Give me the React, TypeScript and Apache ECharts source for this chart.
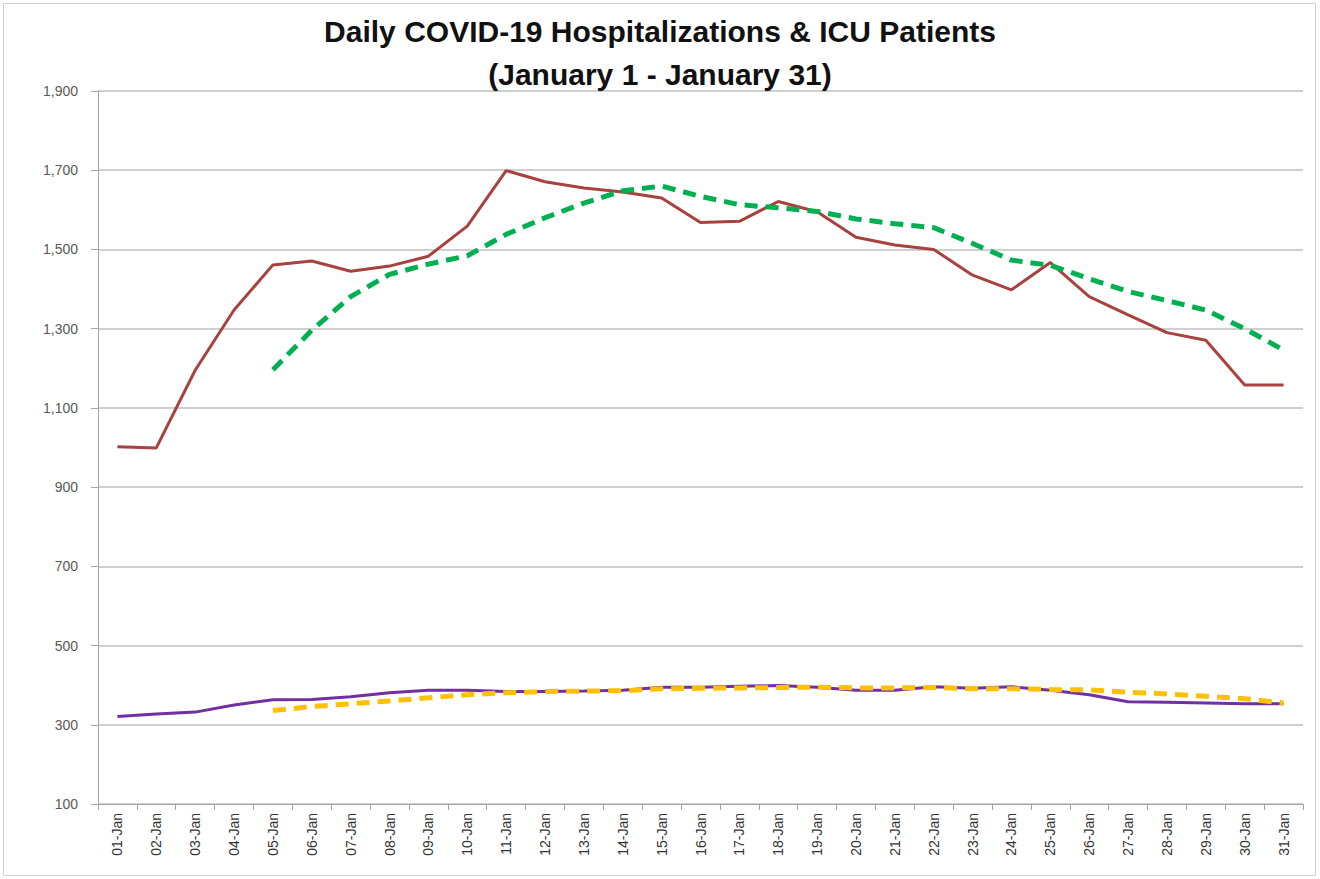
import React, { useEffect, useRef } from "react";
import * as echarts from "echarts";

const days: string[] = [
  "01-Jan","02-Jan","03-Jan","04-Jan","05-Jan","06-Jan","07-Jan","08-Jan","09-Jan","10-Jan",
  "11-Jan","12-Jan","13-Jan","14-Jan","15-Jan","16-Jan","17-Jan","18-Jan","19-Jan","20-Jan",
  "21-Jan","22-Jan","23-Jan","24-Jan","25-Jan","26-Jan","27-Jan","28-Jan","29-Jan","30-Jan","31-Jan",
];

const hospitalizations: (number | null)[] = [
  1002, 999, 1195, 1347, 1461, 1471, 1445, 1458, 1483, 1559,
  1699, 1671, 1655, 1645, 1630, 1568, 1571, 1621, 1595, 1531,
  1511, 1500, 1435, 1398, 1467, 1381, 1335, 1290, 1271, 1158, 1158,
];

const hospAvg: (number | null)[] = [
  null, null, null, null, 1196, 1296, 1381, 1437, 1463, 1484,
  1538, 1580, 1617, 1648, 1660, 1634, 1613, 1605, 1596, 1577,
  1565, 1555, 1515, 1473, 1460, 1426, 1394, 1371, 1347, 1300, 1246,
];

const icu: (number | null)[] = [
  321, 327, 332, 350, 363, 364, 371, 381, 387, 387,
  384, 384, 385, 387, 395, 395, 397, 399, 395, 387,
  387, 396, 392, 396, 387, 376, 358, 357, 355, 353, 353,
];

const icuAvg: (number | null)[] = [
  null, null, null, null, 336, 346, 353, 360, 368, 376,
  381, 384, 385, 386, 391, 392, 393, 394, 395, 393,
  393, 394, 391, 391, 389, 388, 382, 378, 372, 366, 355,
];

const yTicks = { min: 100, max: 1900, interval: 200 };

export default function App() {
  const ref = useRef<HTMLDivElement>(null);
  useEffect(() => {
    if (!ref.current) return;
    const chart = echarts.init(ref.current, undefined, { renderer: "svg" });
    chart.setOption({
      animation: false,
      backgroundColor: "#ffffff",
      title: {
        text: "Daily COVID-19 Hospitalizations & ICU Patients\n(January 1 - January 31)",
        left: "center",
        top: 10,
        padding: 0,
        textStyle: {
          fontFamily: "Liberation Sans, Arial, sans-serif",
          fontWeight: "bold",
          fontSize: 30,
          lineHeight: 43,
          color: "#111111",
        },
      },
      graphic: [
        {
          type: "rect",
          shape: { x: 3.5, y: 3.5, width: 1312, height: 872 },
          style: { fill: "none", stroke: "#d0d0d0", lineWidth: 1 },
          silent: true,
        },
      ],
      grid: { left: 98, right: 17, top: 91, bottom: 75, containLabel: false },
      xAxis: {
        type: "category",
        data: days,
        boundaryGap: true,
        axisLine: { lineStyle: { color: "#a6a6a6", width: 1 } },
        axisTick: { show: true, length: 6, lineStyle: { color: "#a6a6a6" } },
        axisLabel: {
          rotate: 90,
          interval: 0,
          fontSize: 14,
          margin: 9,
          color: "#333333",
          fontFamily: "Liberation Sans, Arial, sans-serif",
        },
        splitLine: { show: false },
      },
      yAxis: {
        type: "value",
        min: yTicks.min,
        max: yTicks.max,
        interval: yTicks.interval,
        axisLine: { show: true, lineStyle: { color: "#a6a6a6", width: 1 } },
        axisTick: { show: true, length: 7, lineStyle: { color: "#a6a6a6" } },
        axisLabel: {
          fontSize: 14,
          margin: 20,
          color: "#595959",
          fontFamily: "Liberation Sans, Arial, sans-serif",
          formatter: (v: number) => v.toLocaleString("en-US"),
        },
        splitLine: { show: true, lineStyle: { color: "#bfbfbf", width: 1.5 } },
      },
      series: [
        {
          name: "Hospitalizations",
          type: "line",
          data: hospitalizations,
          showSymbol: false,
          symbol: "none",
          lineStyle: { color: "#a8423f", width: 3 },
          z: 3,
        },
        {
          name: "Hospitalizations 7-day avg",
          type: "line",
          data: hospAvg,
          showSymbol: false,
          symbol: "none",
          lineStyle: { color: "#00b050", width: 5, type: [13, 8] },
          z: 4,
        },
        {
          name: "ICU",
          type: "line",
          data: icu,
          showSymbol: false,
          symbol: "none",
          lineStyle: { color: "#7030a0", width: 3 },
          z: 3,
        },
        {
          name: "ICU 7-day avg",
          type: "line",
          data: icuAvg,
          showSymbol: false,
          symbol: "none",
          lineStyle: { color: "#ffc000", width: 5, type: [13, 8] },
          z: 4,
        },
      ],
    });
    return () => chart.dispose();
  }, []);
  return (
    <div
      ref={ref}
      style={{ position: "absolute", left: 0, top: 0, width: 1320, height: 879 }}
    />
  );
}
